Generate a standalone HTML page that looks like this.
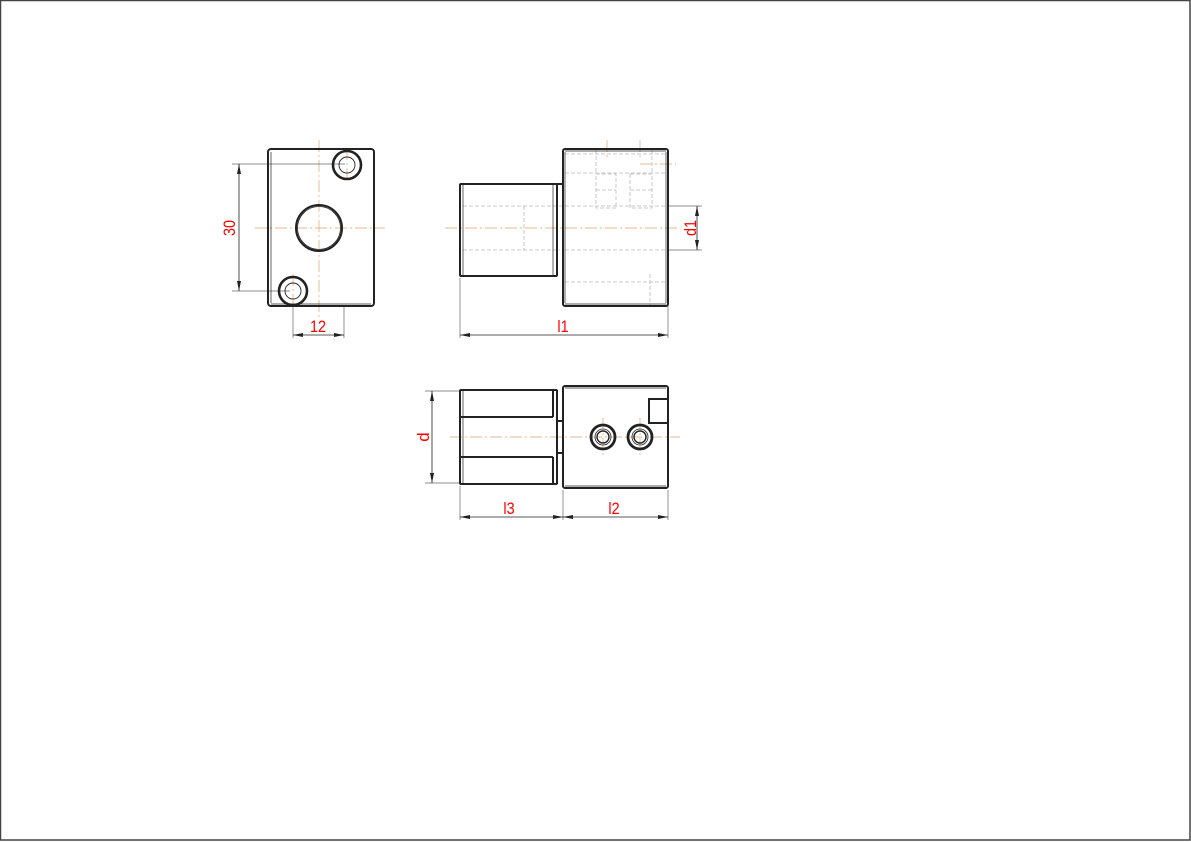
<!DOCTYPE html>
<html><head><meta charset="utf-8"><style>
html,body{margin:0;padding:0;background:#fff;}
svg{display:block;}
text{font-family:"Liberation Sans",sans-serif;fill:#f00;font-size:17px;}
</style></head><body>
<svg width="1191" height="842" viewBox="0 0 1191 842" xmlns="http://www.w3.org/2000/svg">
<rect x="0.5" y="0.5" width="1189.5" height="839.5" fill="none" stroke="#444" stroke-width="1.5"/>
<defs>
<marker id="a" viewBox="0 0 10 4" refX="10" refY="2" markerWidth="10" markerHeight="4" orient="auto-start-reverse" markerUnits="userSpaceOnUse"><path d="M0,0L10,2L0,4z" fill="#222"/></marker>
</defs>
<g stroke="#e0a070" stroke-width="0.7" stroke-dasharray="12,3,2,3" fill="none">
<line x1="319" y1="140" x2="319" y2="320"/>
<line x1="255" y1="228" x2="385" y2="228"/>
<line x1="347" y1="148" x2="347" y2="182"/>
<line x1="293" y1="274" x2="293" y2="310"/>
<line x1="445" y1="228" x2="680" y2="228"/>
<line x1="450" y1="437" x2="680" y2="437"/>
<line x1="603" y1="418" x2="603" y2="456"/>
<line x1="640" y1="418" x2="640" y2="456"/>
<line x1="607" y1="140" x2="607" y2="160"/>
<line x1="640" y1="140" x2="640" y2="160"/>
<line x1="640" y1="164" x2="676" y2="164"/>
</g>
<g stroke="#bbb" stroke-width="0.8" stroke-dasharray="4,2" fill="none">
<line x1="565" y1="154" x2="665" y2="154"/>
<line x1="565" y1="173" x2="665" y2="173"/>
<line x1="463" y1="206" x2="668" y2="206"/>
<line x1="463" y1="250" x2="560" y2="250"/>
<line x1="565" y1="250" x2="668" y2="250"/>
<line x1="524" y1="206" x2="524" y2="250"/>
<line x1="565" y1="282" x2="668" y2="282"/>
<line x1="650" y1="274" x2="650" y2="306"/>
<rect x="596" y="174" width="20" height="34"/>
<rect x="630" y="174" width="22" height="34"/>
<line x1="596" y1="150" x2="596" y2="174"/>
<line x1="652" y1="150" x2="652" y2="174"/>
<line x1="596" y1="190" x2="616" y2="190"/>
<line x1="630" y1="190" x2="652" y2="190"/>
</g>
<g stroke="#666" stroke-width="0.7" fill="none">
<line x1="232" y1="164" x2="345" y2="164"/>
<line x1="232" y1="291" x2="290" y2="291"/>
<line x1="293" y1="306" x2="293" y2="338"/>
<line x1="344" y1="306" x2="344" y2="338"/>
<line x1="668" y1="206" x2="702" y2="206"/>
<line x1="668" y1="250" x2="702" y2="250"/>
<line x1="460" y1="278" x2="460" y2="338"/>
<line x1="668" y1="306" x2="668" y2="338"/>
<line x1="425" y1="391" x2="460" y2="391"/>
<line x1="425" y1="483" x2="460" y2="483"/>
<line x1="460" y1="486" x2="460" y2="520"/>
<line x1="563" y1="490" x2="563" y2="520"/>
<line x1="668" y1="490" x2="668" y2="520"/>
</g>
<g stroke="#222" stroke-width="0.8" fill="none" marker-start="url(#a)" marker-end="url(#a)">
<line x1="239" y1="164" x2="239" y2="291"/>
<line x1="293" y1="335" x2="344" y2="335"/>
<line x1="697" y1="206" x2="697" y2="250"/>
<line x1="460" y1="335" x2="668" y2="335"/>
<line x1="432" y1="391" x2="432" y2="483"/>
<line x1="460" y1="517" x2="563" y2="517"/>
<line x1="563" y1="517" x2="668" y2="517"/>
</g>
<g stroke="#222" stroke-width="2" fill="none">
<rect x="268" y="149" width="106" height="157" rx="3"/>
<line x1="271" y1="152" x2="271" y2="303" stroke-width="0.7"/>
<line x1="271" y1="304" x2="371" y2="304" stroke-width="0.7"/>
<circle cx="347" cy="165" r="14" stroke-width="2.6"/>
<circle cx="347" cy="165" r="8" stroke-width="0.9"/>
<circle cx="319" cy="228" r="23"/>
<circle cx="319" cy="228" r="21.5" stroke-width="0.8"/>
<circle cx="293" cy="291" r="14" stroke-width="2.6"/>
<circle cx="293" cy="291" r="8" stroke-width="0.9"/>
</g>
<g stroke="#222" stroke-width="2" fill="none">
<rect x="460" y="184" width="97" height="92" rx="1"/>
<line x1="463" y1="185" x2="463" y2="275" stroke-width="0.7"/>
<line x1="553" y1="185" x2="553" y2="275" stroke-width="0.7"/>
<line x1="557" y1="184" x2="563" y2="184"/>
<rect x="563" y="149" width="105" height="157" rx="2"/>
<line x1="565" y1="152" x2="565" y2="303" stroke-width="0.7"/>
<line x1="565" y1="151" x2="666" y2="151" stroke-width="0.7"/>
<line x1="565" y1="304" x2="666" y2="304" stroke-width="0.7"/>
<line x1="666" y1="152" x2="666" y2="303" stroke-width="0.7"/>
</g>
<g stroke="#222" stroke-width="2" fill="none">
<rect x="460" y="390" width="97" height="94" rx="1"/>
<line x1="463" y1="391" x2="463" y2="483" stroke-width="0.7"/>
<line x1="460" y1="417" x2="553" y2="417"/>
<line x1="460" y1="457" x2="553" y2="457"/>
<path d="M553,390 L553,417 M553,457 L553,484"/>
<path d="M557,390 L557,421 L563,421 M557,484 L557,453 L563,453"/>
<rect x="563" y="386" width="105" height="102" rx="2"/>
<line x1="565" y1="388" x2="666" y2="388" stroke-width="0.7"/>
<line x1="565" y1="486" x2="666" y2="486" stroke-width="0.7"/>
<rect x="649" y="399" width="19" height="24"/>
<circle cx="603" cy="437" r="12" stroke-width="2.8"/>
<circle cx="603" cy="437" r="8" stroke-width="0.8"/>
<circle cx="603" cy="437" r="6" stroke-width="1.4"/>
<circle cx="640" cy="437" r="12" stroke-width="2.8"/>
<circle cx="640" cy="437" r="8" stroke-width="0.8"/>
<circle cx="640" cy="437" r="6" stroke-width="1.4"/>
</g>
<g transform="rotate(-90 229 228)"><text x="229" y="234" text-anchor="middle" transform="translate(229 0) scale(0.85 1) translate(-229 0)">30</text></g>
<text x="318" y="332" text-anchor="middle" transform="translate(318 0) scale(0.85 1) translate(-318 0)">12</text>
<text x="563" y="332" text-anchor="middle" transform="translate(563 0) scale(0.85 1) translate(-563 0)">l1</text>
<g transform="rotate(-90 690 228)"><text x="690" y="234" text-anchor="middle" transform="translate(690 0) scale(0.85 1) translate(-690 0)">d1</text></g>
<g transform="rotate(-90 423 437)"><text x="423" y="443" text-anchor="middle">d</text></g>
<text x="509" y="514" text-anchor="middle" transform="translate(509 0) scale(0.85 1) translate(-509 0)">l3</text>
<text x="614" y="514" text-anchor="middle" transform="translate(614 0) scale(0.85 1) translate(-614 0)">l2</text>
</svg>
</body></html>
